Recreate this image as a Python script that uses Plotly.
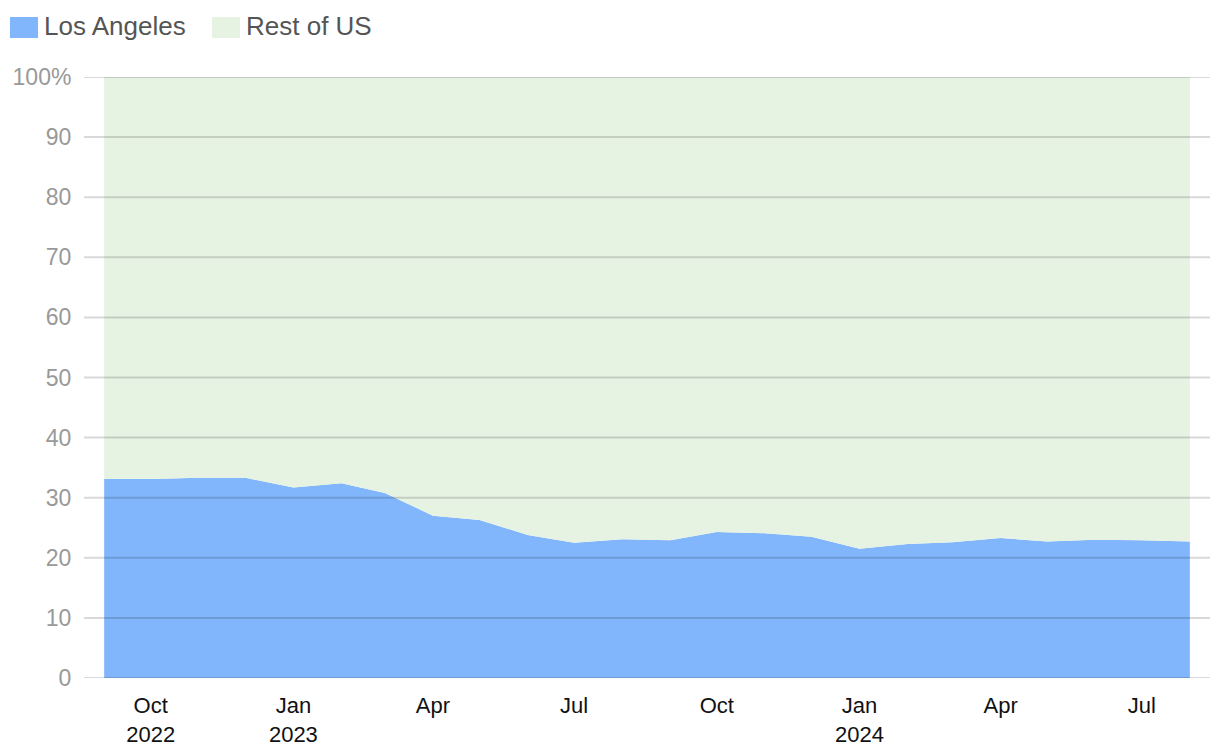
import plotly.graph_objects as go

months = ["2022-09-01", "2022-10-01", "2022-11-01", "2022-12-01",
          "2023-01-01", "2023-02-01", "2023-03-01", "2023-04-01",
          "2023-05-01", "2023-06-01", "2023-07-01", "2023-08-01",
          "2023-09-01", "2023-10-01", "2023-11-01", "2023-12-01",
          "2024-01-01", "2024-02-01", "2024-03-01", "2024-04-01",
          "2024-05-01", "2024-06-01", "2024-07-01", "2024-08-01"]

los_angeles = [33.1, 33.1, 33.3, 33.3, 31.7, 32.4, 30.8, 27.0,
               26.3, 23.8, 22.5, 23.1, 22.9, 24.3, 24.1, 23.5,
               21.5, 22.3, 22.6, 23.3, 22.7, 23.0, 22.9, 22.7]

rest_of_us = [66.9, 66.9, 66.7, 66.7, 68.3, 67.6, 69.2, 73.0,
              73.7, 76.2, 77.5, 76.9, 77.1, 75.7, 75.9, 76.5,
              78.5, 77.7, 77.4, 76.7, 77.3, 77.0, 77.1, 77.3]

series_names = ["Los Angeles", "Rest of US"]

y_tick_vals = [0, 10, 20, 30, 40, 50, 60, 70, 80, 90, 100]
y_tick_text = ["0", "10", "20", "30", "40", "50", "60", "70", "80", "90", "100%"]

x_tick_vals = ["2022-10-01", "2023-01-01", "2023-04-01", "2023-07-01",
               "2023-10-01", "2024-01-01", "2024-04-01", "2024-07-01"]
x_tick_text = ["Oct<br>2022", "Jan<br>2023", "Apr", "Jul",
               "Oct", "Jan<br>2024", "Apr", "Jul"]

BLUE = "#82b6fc"
GREEN = "#e6f2e2"

# page body has an 8px margin; compensate so the figure fits the 1220x754 window
OFF = 8
W, H = 1220 - 2 * OFF, 754 - 2 * OFF
# plot area in page pixels: x 84..1210, y 77..678
ML = 84 - OFF
MT = 77 - OFF
PW = 1210 - 84
PH = 678 - 77
MR = W - ML - PW
MB = H - MT - PH


def px_x(p):
    return (p - OFF - ML) / PW


def px_y(p):
    return (MT + PH - (p - OFF)) / PH


fig = go.Figure()
fig.add_trace(go.Scatter(
    x=months, y=los_angeles, name=series_names[0], mode="lines",
    stackgroup="one", line=dict(width=0, color=BLUE), fillcolor=BLUE,
))
fig.add_trace(go.Scatter(
    x=months, y=rest_of_us, name=series_names[1], mode="lines",
    stackgroup="one", line=dict(width=0, color=GREEN), fillcolor=GREEN,
))

# gridlines drawn above the areas
for v in y_tick_vals:
    fig.add_shape(type="line", xref="paper", yref="y", x0=0, x1=1, y0=v, y1=v,
                  line=dict(color="rgba(0,0,0,0.15)", width=2),
                  layer="above")

# legend (drawn manually: square swatches + labels)
legend_items = [(series_names[0], BLUE, 10), (series_names[1], GREEN, 212)]
for name, col, x0 in legend_items:
    fig.add_shape(type="rect", xref="paper", yref="paper",
                  x0=px_x(x0), x1=px_x(x0 + 28), y0=px_y(38), y1=px_y(17),
                  fillcolor=col, line=dict(width=0), layer="above")
    fig.add_annotation(xref="paper", yref="paper", x=px_x(x0 + 32), y=px_y(26),
                       text=name, showarrow=False, xanchor="left", yanchor="middle",
                       font=dict(size=26, color="#555"))

fig.update_layout(
    width=W, height=H,
    margin=dict(l=ML, r=MR, t=MT, b=MB, autoexpand=False),
    paper_bgcolor="white", plot_bgcolor="white",
    font=dict(family="Liberation Sans, Arial, sans-serif", size=22, color="#222"),
    showlegend=False,
    hovermode=False,
)
fig.update_xaxes(
    type="date", range=["2022-08-19", "2024-08-14"],
    tickvals=x_tick_vals, ticktext=x_tick_text,
    showgrid=False, zeroline=False, showline=False, automargin=False,
    ticks="outside", ticklen=8, tickcolor="rgba(0,0,0,0)",
    tickfont=dict(size=22, color="#111"),
)
fig.update_yaxes(
    range=[0, 100], tickvals=y_tick_vals, ticktext=y_tick_text,
    showgrid=False, zeroline=False, showline=False, automargin=False,
    ticks="outside", ticklen=7, tickcolor="rgba(0,0,0,0)",
    tickfont=dict(size=23, color="#999"),
)

fig.write_html("out.html")
